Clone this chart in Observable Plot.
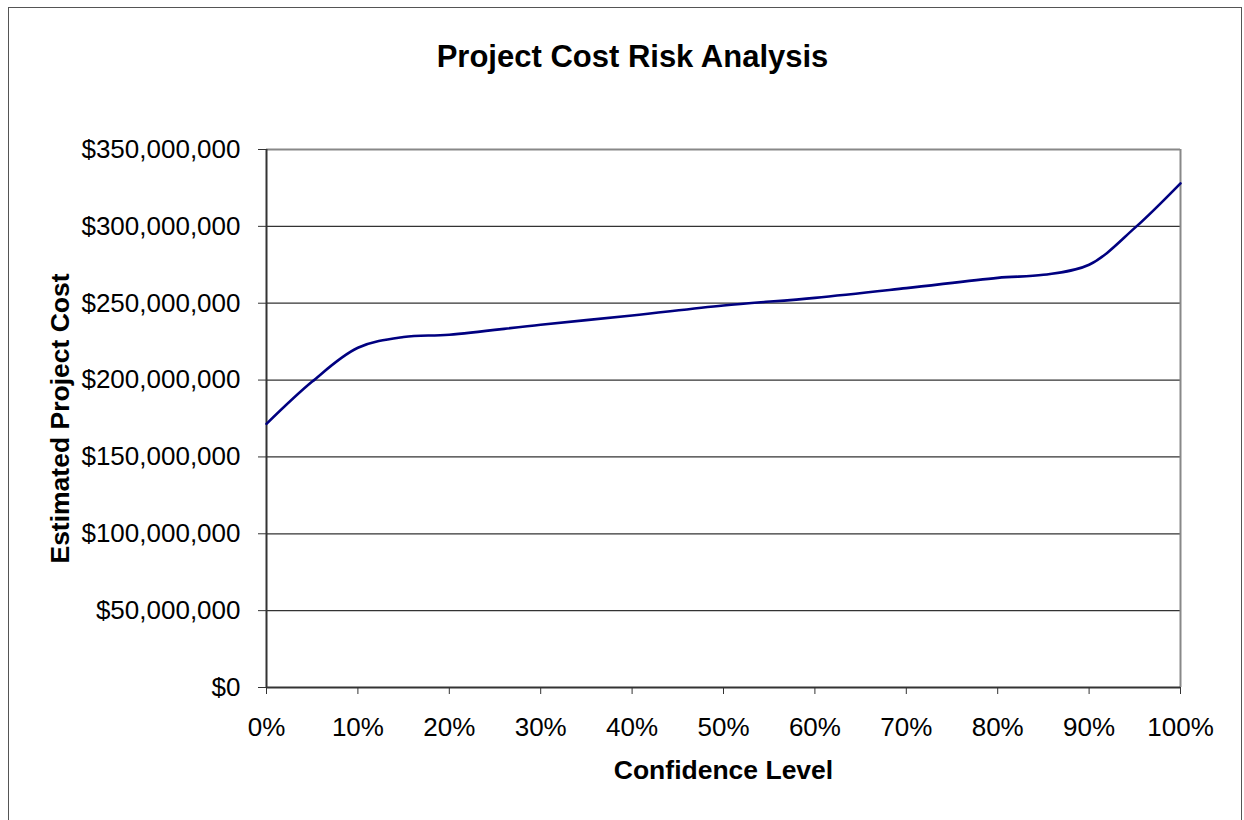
<!DOCTYPE html>
<html>
<head>
<meta charset="utf-8">
<script src="https://cdn.jsdelivr.net/npm/d3@7"></script>
<script src="https://cdn.jsdelivr.net/npm/@observablehq/plot@0.6"></script>
<style>
  html, body { margin: 0; padding: 0; background: #fff; overflow: hidden; }
  #wrap { position: relative; width: 1244px; height: 820px; overflow: hidden; }
  #border { position: absolute; left: 8px; top: 7px; width: 1234px; height: 830px; border: 1px solid #555; box-sizing: border-box; }
  #chart { position: absolute; left: 0; top: 0; }
</style>
</head>
<body>
<div id="wrap"><div id="border"></div><div id="chart"></div></div>
<script>
// Confidence level (fraction) and estimated project cost (USD)
const confidence = [0, 0.05, 0.10, 0.15, 0.20, 0.30, 0.40, 0.50, 0.60, 0.70, 0.80, 0.85, 0.90, 0.95, 1.00];
const costMillions = [171.5, 199, 221, 228, 229.5, 236, 242, 248.5, 253.5, 259.8, 266.5, 268.5, 275, 299, 328];
const yTicks = [0, 50e6, 100e6, 150e6, 200e6, 250e6, 300e6, 350e6];
const xTicks = [0, 0.1, 0.2, 0.3, 0.4, 0.5, 0.6, 0.7, 0.8, 0.9, 1.0];
const titleText = "Project Cost Risk Analysis";
const xLabel = "Confidence Level";
const yLabel = "Estimated Project Cost";

const data = confidence.map((c, i) => ({c, v: costMillions[i] * 1e6}));

const plot = Plot.plot({
  width: 1244,
  height: 820,
  marginLeft: 266,
  marginRight: 64,
  marginTop: 149,
  marginBottom: 133,
  style: {fontFamily: "'Liberation Sans', Arial, sans-serif", fontSize: "26px", color: "#000", background: "transparent"},
  x: {domain: [0, 1]},
  y: {domain: [0, 350e6]},
  marks: [
    Plot.gridY(yTicks, {stroke: "#333", strokeOpacity: 1, strokeWidth: 1.2}),
    Plot.ruleX([1], {stroke: "#888", strokeWidth: 2}),
    Plot.ruleY([350e6], {stroke: "#888", strokeWidth: 2}),
    Plot.axisY({ticks: yTicks, tickSize: 8, tickPadding: 18, tickFormat: d => "$" + d3.format(",")(d), label: null, fontSize: 26, stroke: "#333"}),
    Plot.axisX({ticks: xTicks, tickSize: 7, tickPadding: 23, tickFormat: d3.format(".0%"), label: null, fontSize: 26, stroke: "#333"}),
    Plot.ruleX([0], {stroke: "#333", strokeWidth: 2}),
    Plot.ruleY([0], {stroke: "#333", strokeWidth: 2}),
    Plot.line(data, {x: "c", y: "v", stroke: "#000080", strokeWidth: 2.6, curve: "catmull-rom"}),
    Plot.text([titleText], {frameAnchor: "top", lineAnchor: "middle", dx: -91, dy: -92, fontSize: 31, fontWeight: "bold", fill: "#000"}),
    Plot.text([xLabel], {frameAnchor: "bottom", lineAnchor: "middle", dy: 83, fontSize: 26.5, fontWeight: "bold", fill: "#000"}),
    Plot.text([yLabel], {frameAnchor: "left", textAnchor: "middle", lineAnchor: "middle", dx: -206, rotate: -90, fontSize: 26.5, fontWeight: "bold", fill: "#000"})
  ]
});
document.getElementById("chart").appendChild(plot);
</script>
</body>
</html>
